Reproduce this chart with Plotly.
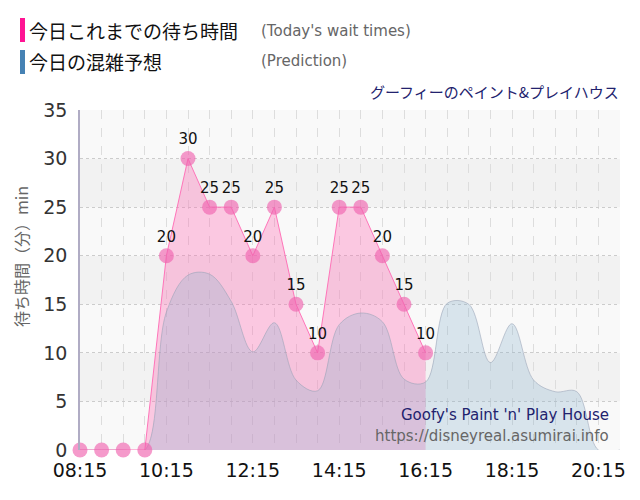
import plotly.graph_objects as go

# ---- data ----
day = "2024-01-01 "
actual_times = ["08:15", "08:45", "09:15", "09:45", "10:15", "10:45", "11:15", "11:45",
                "12:15", "12:45", "13:15", "13:45", "14:15", "14:45", "15:15", "15:45", "16:15"]
actual_waits = [0, 0, 0, 0, 20, 30, 25, 25, 20, 25, 15, 10, 25, 25, 20, 15, 10]

pred_times = ["08:15", "08:45", "09:15", "09:45", "10:15", "10:45", "11:15", "11:45",
              "12:15", "12:45", "13:15", "13:45", "14:15", "14:45", "15:15", "15:45",
              "16:15", "16:45", "17:15", "17:45", "18:15", "18:45", "19:15", "19:45",
              "20:15", "20:45"]
pred_waits = [0, 0, 0, 0, 14.2, 18.0, 18.1, 15.3, 10.1, 13.1, 7.2, 6.1, 12.9, 14.1, 13.2, 7.3,
              7.0, 15.1, 15.0, 9.0, 13.0, 7.2, 6.0, 6.0, 0, 0]

x_tick_labels = ["08:15", "10:15", "12:15", "14:15", "16:15", "18:15", "20:15"]
y_ticks = [0, 5, 10, 15, 20, 25, 30, 35]

title_jp = "グーフィーのペイント&プレイハウス"
title_en = "Goofy's Paint 'n' Play House"
site = "https://disneyreal.asumirai.info"
legend_actual = "今日これまでの待ち時間"
legend_actual_en = "(Today's wait times)"
legend_pred = "今日の混雑予想"
legend_pred_en = "(Prediction)"
y_title = "待ち時間（分）min"

ax = [day + t for t in actual_times]
px_ = [day + t for t in pred_times]

FONT = "DejaVu Sans, Noto Sans CJK JP, sans-serif"
JP = "Noto Sans CJK JP, DejaVu Sans, sans-serif"

# page body has an 8px margin; plot area is placed at (80..620, 110..450) in the window
OFF = 8
PL, PR, PT, PB = 80, 620, 110, 450
W, H = 624, 484

fig = go.Figure()

# pink area (under everything)
fig.add_trace(go.Scatter(
    x=ax, y=actual_waits, mode="none",
    fill="tozeroy", fillcolor="rgba(255,105,180,0.34)",
    hoverinfo="skip", showlegend=False))

# prediction area
fig.add_trace(go.Scatter(
    x=px_, y=pred_waits, mode="lines", line=dict(shape="spline", smoothing=1.0,
                                                 color="rgba(150,160,180,0.55)", width=1),
    fill="tozeroy", fillcolor="rgba(140,178,205,0.30)", hoverinfo="skip", showlegend=False))

# pink line, markers and labels
fig.add_trace(go.Scatter(
    x=ax, y=actual_waits, mode="lines+markers+text",
    line=dict(color="rgba(255,105,180,0.9)", width=1),
    marker=dict(size=15, color="rgba(240,100,175,0.65)", line=dict(width=0)),
    text=[str(v) if v > 0 else "" for v in actual_waits],
    textposition="top center", textfont=dict(family=FONT, size=15, color="#111"),
    cliponaxis=False, showlegend=False))


def py(pix):
    return (PB - pix) / (PB - PT)


def pxx(pix):
    return (pix - PL) / (PR - PL)


shapes = []
for i in range(7):
    lo, hi = i * 5, i * 5 + 5
    shapes.append(dict(type="rect", xref="paper", yref="y", x0=0, x1=1, y0=lo, y1=hi,
                       fillcolor="#f9f9f9" if i % 2 == 0 else "#f2f2f2",
                       line=dict(width=0), layer="below"))
# legend colour bars
shapes.append(dict(type="rect", xref="paper", yref="paper", x0=pxx(20), x1=pxx(25),
                   y0=py(42), y1=py(18), fillcolor="#ff1493", line=dict(width=0)))
shapes.append(dict(type="rect", xref="paper", yref="paper", x0=pxx(20), x1=pxx(25),
                   y0=py(74), y1=py(50), fillcolor="#4682b4", line=dict(width=0)))

annotations = [
    dict(text=legend_actual, x=pxx(27), y=py(31), xanchor="left", yanchor="middle",
         font=dict(family=JP, size=19, color="#111")),
    dict(text=legend_actual_en, x=pxx(259), y=py(31), xanchor="left", yanchor="middle",
         font=dict(family=FONT, size=15, color="#666")),
    dict(text=legend_pred, x=pxx(27), y=py(61), xanchor="left", yanchor="middle",
         font=dict(family=JP, size=19, color="#111")),
    dict(text=legend_pred_en, x=pxx(259), y=py(61), xanchor="left", yanchor="middle",
         font=dict(family=FONT, size=15, color="#666")),
    dict(text=title_jp, x=pxx(621), y=py(92), xanchor="right", yanchor="middle",
         font=dict(family=JP, size=15, color="#22226e")),
    dict(text=title_en, x=pxx(611), y=py(415), xanchor="right", yanchor="middle",
         font=dict(family=FONT, size=15, color="#22226e")),
    dict(text=site, x=pxx(611), y=py(436), xanchor="right", yanchor="middle",
         font=dict(family=FONT, size=15, color="#666")),
    dict(text=y_title, x=pxx(21), y=py(257), xanchor="center", yanchor="middle",
         textangle=-90, font=dict(family=JP, size=16, color="#666")),
]
for a in annotations:
    a.update(xref="paper", yref="paper", showarrow=False)

fig.update_layout(
    width=W, height=H,
    margin=dict(l=PL - OFF, r=W - (PR - OFF), t=PT - OFF, b=H - (PB - OFF)),
    paper_bgcolor="white", plot_bgcolor="white",
    shapes=shapes, annotations=annotations,
    font=dict(family=FONT),
    xaxis=dict(
        type="date", range=[day + "08:15", day + "20:45"],
        tickvals=[day + t for t in x_tick_labels], ticktext=x_tick_labels,
        showgrid=True, gridcolor="#dddddd", griddash="dash", gridwidth=1,
        minor=dict(dtick=30 * 60 * 1000, tick0=day + "08:15", showgrid=True,
                   gridcolor="#dddddd", griddash="dash", gridwidth=1),
        tickfont=dict(family=FONT, size=19, color="#111"),
        ticks="", zeroline=False, showline=False, fixedrange=True,
        ticklabelstandoff=7, automargin=False),
    yaxis=dict(
        range=[0, 35], tickvals=y_ticks, ticktext=[str(v) for v in y_ticks],
        showgrid=True, gridcolor="#cccccc", griddash="dot", gridwidth=1,
        tickfont=dict(family=FONT, size=19, color="#333"),
        ticks="", zeroline=False, showline=True, linecolor="#b0acc4", linewidth=1.5,
        ticklabelstandoff=7, automargin=False),
)

fig.write_html("out.html")
